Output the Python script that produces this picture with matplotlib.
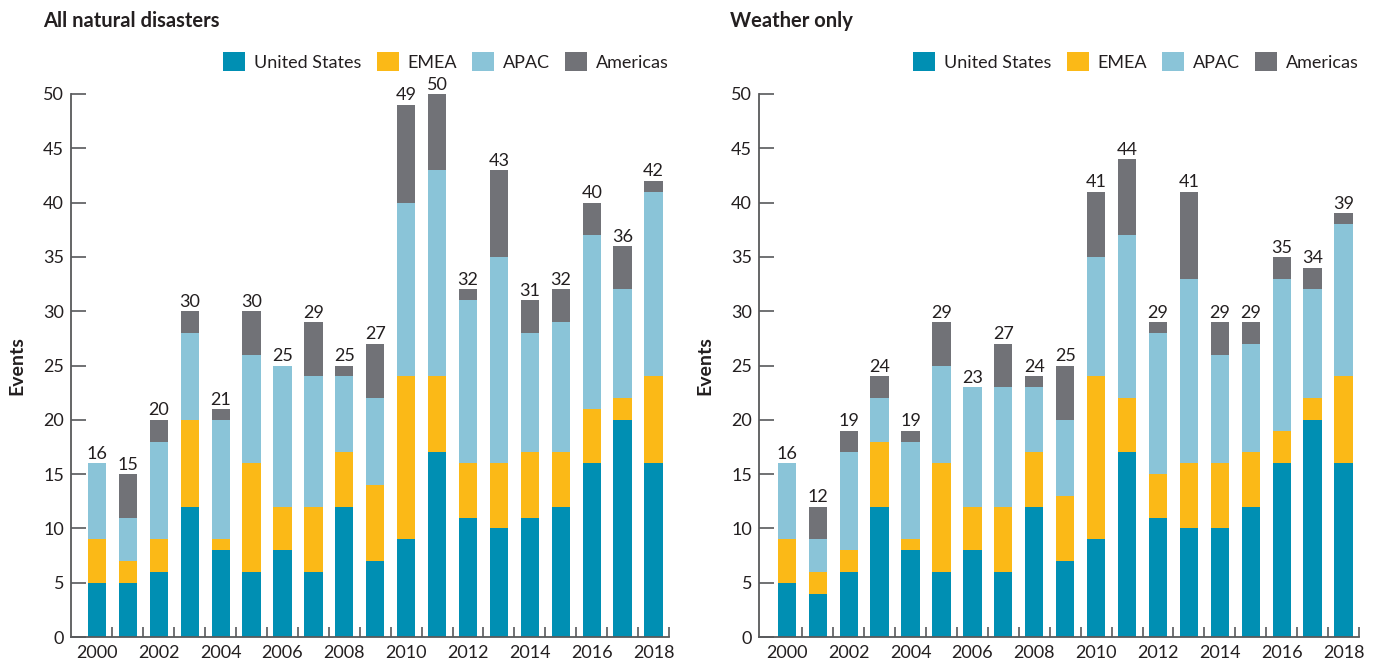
import matplotlib.pyplot as plt
import numpy as np

plt.rcParams["font.family"] = ["Lato", "DejaVu Sans"]

years = list(range(2000, 2019))
regions = ["United States", "EMEA", "APAC", "Americas"]
colors = ["#008fb3", "#fbb917", "#8ac4d8", "#717277"]

# All natural disasters, events per region
all_us = [5, 5, 6, 12, 8, 6, 8, 6, 12, 7, 9, 17, 11, 10, 11, 12, 16, 20, 16]
all_emea = [4, 2, 3, 8, 1, 10, 4, 6, 5, 7, 15, 7, 5, 6, 6, 5, 5, 2, 8]
all_apac = [7, 4, 9, 8, 11, 10, 13, 12, 7, 8, 16, 19, 15, 19, 11, 12, 16, 10, 17]
all_americas = [0, 4, 2, 2, 1, 4, 0, 5, 1, 5, 9, 7, 1, 8, 3, 3, 3, 4, 1]

# Weather only
wx_us = [5, 4, 6, 12, 8, 6, 8, 6, 12, 7, 9, 17, 11, 10, 10, 12, 16, 20, 16]
wx_emea = [4, 2, 2, 6, 1, 10, 4, 6, 5, 6, 15, 5, 4, 6, 6, 5, 3, 2, 8]
wx_apac = [7, 3, 9, 4, 9, 9, 11, 11, 6, 7, 11, 15, 13, 17, 10, 10, 14, 10, 14]
wx_americas = [0, 3, 2, 2, 1, 4, 0, 4, 1, 5, 6, 7, 1, 8, 3, 2, 2, 2, 1]

text_color = "#231f20"
axis_color = "#58595b"


def draw_panel(ax, series, title, left_px):
    x = np.arange(len(years))
    bottom = np.zeros(len(years))
    for vals, name, col in zip(series, regions, colors):
        ax.bar(x, vals, width=0.59, bottom=bottom, color=col, label=name)
        bottom += np.array(vals)

    for xi, total in zip(x, bottom):
        ax.annotate(f"{int(total)}", (xi, total), xytext=(0, 1),
                    textcoords="offset points", ha="center", va="bottom",
                    fontsize=13, color=text_color)

    ax.set_ylim(0, 50)
    ax.set_yticks(range(0, 51, 5))
    ax.set_xticks(x[::2])
    ax.set_xticklabels([str(y) for y in years[::2]])
    ax.set_xticks(x + 0.5, minor=True)
    ax.tick_params(axis="x", which="major", length=0, pad=6,
                   labelsize=13, labelcolor=text_color)
    ax.tick_params(axis="x", which="minor", direction="in", length=7,
                   width=1.2, color=axis_color)
    ax.tick_params(axis="y", direction="in", length=11, width=1.2,
                   color=axis_color, labelsize=13, labelcolor=text_color, pad=5)

    for side in ["top", "right"]:
        ax.spines[side].set_visible(False)
    for side in ["left", "bottom"]:
        ax.spines[side].set_color(axis_color)
        ax.spines[side].set_linewidth(1.3)

    ax.set_ylabel("Events", fontsize=14, fontweight="bold", color=text_color,
                  labelpad=13)
    ax.legend(loc="center right", bbox_to_anchor=(1.0, 1.06), ncol=4,
              frameon=False, fontsize=13, handlelength=1.2, handleheight=1.2,
              handletextpad=0.5, columnspacing=0.85, borderaxespad=0,
              borderpad=0, labelcolor=text_color)

    fig.text(left_px / 1375, 1 - 21 / 667, title, fontsize=14.5,
             fontweight="bold", color=text_color, ha="left", va="center")


fig = plt.figure(figsize=(13.75, 6.67), dpi=100)
ax1 = fig.add_axes([71 / 1375, 30 / 667, 598 / 1375, 543 / 667])
ax2 = fig.add_axes([759 / 1375, 30 / 667, 600 / 1375, 543 / 667])

draw_panel(ax1, [all_us, all_emea, all_apac, all_americas],
           "All natural disasters", 43)
draw_panel(ax2, [wx_us, wx_emea, wx_apac, wx_americas],
           "Weather only", 730)

# x range so the first bar sits off the spine and the axis ends at the last tick
ax1.set_xlim(-0.84, 18.5)
ax2.set_xlim(-0.9, 18.5)

fig.savefig("out.png", dpi=100)
